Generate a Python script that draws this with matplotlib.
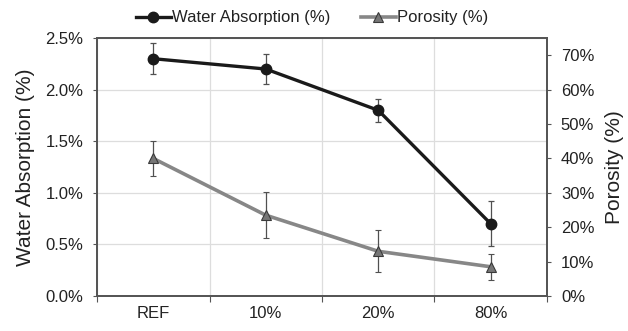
import matplotlib.pyplot as plt
from matplotlib.lines import Line2D
from matplotlib.ticker import FuncFormatter

plt.rcParams['font.family'] = ['Liberation Sans', 'DejaVu Sans']

# valores
categorias = ['REF', '10%', '20%', '80%']
absorcao = [2.30, 2.20, 1.80, 0.70]
absorcao_err = [0.15, 0.15, 0.11, 0.22]
porosidade = [40.0, 23.5, 13.0, 8.5]
porosidade_err = [5.0, 6.7, 6.1, 3.7]

x = list(range(len(categorias)))
borda = '#555555'
preto = '#1a1a1a'
cinza = '#878787'

fig = plt.figure(figsize=(6.28, 3.31), dpi=100)
ax = fig.add_axes([0.1545, 0.1057, 0.7165, 0.7793])
ax2 = ax.twinx()

ax.errorbar(x, absorcao, yerr=absorcao_err, color=preto, lw=2.4,
            marker='o', ms=7.5, ecolor='#505050', elinewidth=0.9, capsize=2.5,
            capthick=0.9, zorder=3)
ax2.errorbar(x, porosidade, yerr=porosidade_err, color=cinza, lw=2.6,
             marker='^', ms=7.5, mfc='#767676', mec='#3a3a3a', mew=0.8,
             ecolor='#505050', elinewidth=0.9, capsize=2.5, capthick=0.9,
             zorder=3)

ax.set_xlim(-0.5, 3.5)
ax.set_ylim(0, 2.5)
ax2.set_ylim(0, 75)
ax.set_yticks([0, 0.5, 1.0, 1.5, 2.0, 2.5])
ax2.set_yticks(range(0, 80, 10))
ax.yaxis.set_major_formatter(FuncFormatter(lambda v, p: f'{v:.1f}%'))
ax2.yaxis.set_major_formatter(FuncFormatter(lambda v, p: f'{v:.0f}%'))

ax.set_xticks([-0.5, 0.5, 1.5, 2.5, 3.5])
ax.set_xticklabels([])
ax.set_xticks(x, minor=True)
ax.set_xticklabels(categorias, minor=True)
ax.tick_params(axis='x', which='minor', length=0, pad=7, labelsize=12, labelcolor='#222222')
ax.tick_params(axis='x', which='major', length=4, color=borda, direction='out')
ax.tick_params(axis='y', length=3, color=borda, labelsize=12, pad=7, labelcolor='#222222')
ax2.tick_params(axis='y', length=3, color=borda, labelsize=12, pad=7, labelcolor='#222222')

ax.grid(True, which='major', color='#dddddd', lw=0.9)
ax.set_axisbelow(True)
for a in (ax, ax2):
    for s in a.spines.values():
        s.set_color(borda)
        s.set_linewidth(1.3)

ax.set_ylabel('Water Absorption (%)', fontsize=15, color='#222222', labelpad=7)
ax2.set_ylabel('Porosity (%)', fontsize=15, color='#222222', labelpad=8)

h1 = Line2D([], [], color=preto, lw=2.4, marker='o', ms=7.5)
h2 = Line2D([], [], color=cinza, lw=2.6, marker='^', ms=7.5, mfc='#767676', mec='#3a3a3a', mew=0.8)
fig.legend([h1, h2], ['Water Absorption (%)', 'Porosity (%)'], loc='center',
           bbox_to_anchor=(0.497, 0.946), ncol=2, frameon=False, fontsize=12,
           handlelength=2.1, handletextpad=0.1, columnspacing=1.8,
           borderpad=0, labelcolor='#222222')

fig.savefig('out.png', dpi=100)
